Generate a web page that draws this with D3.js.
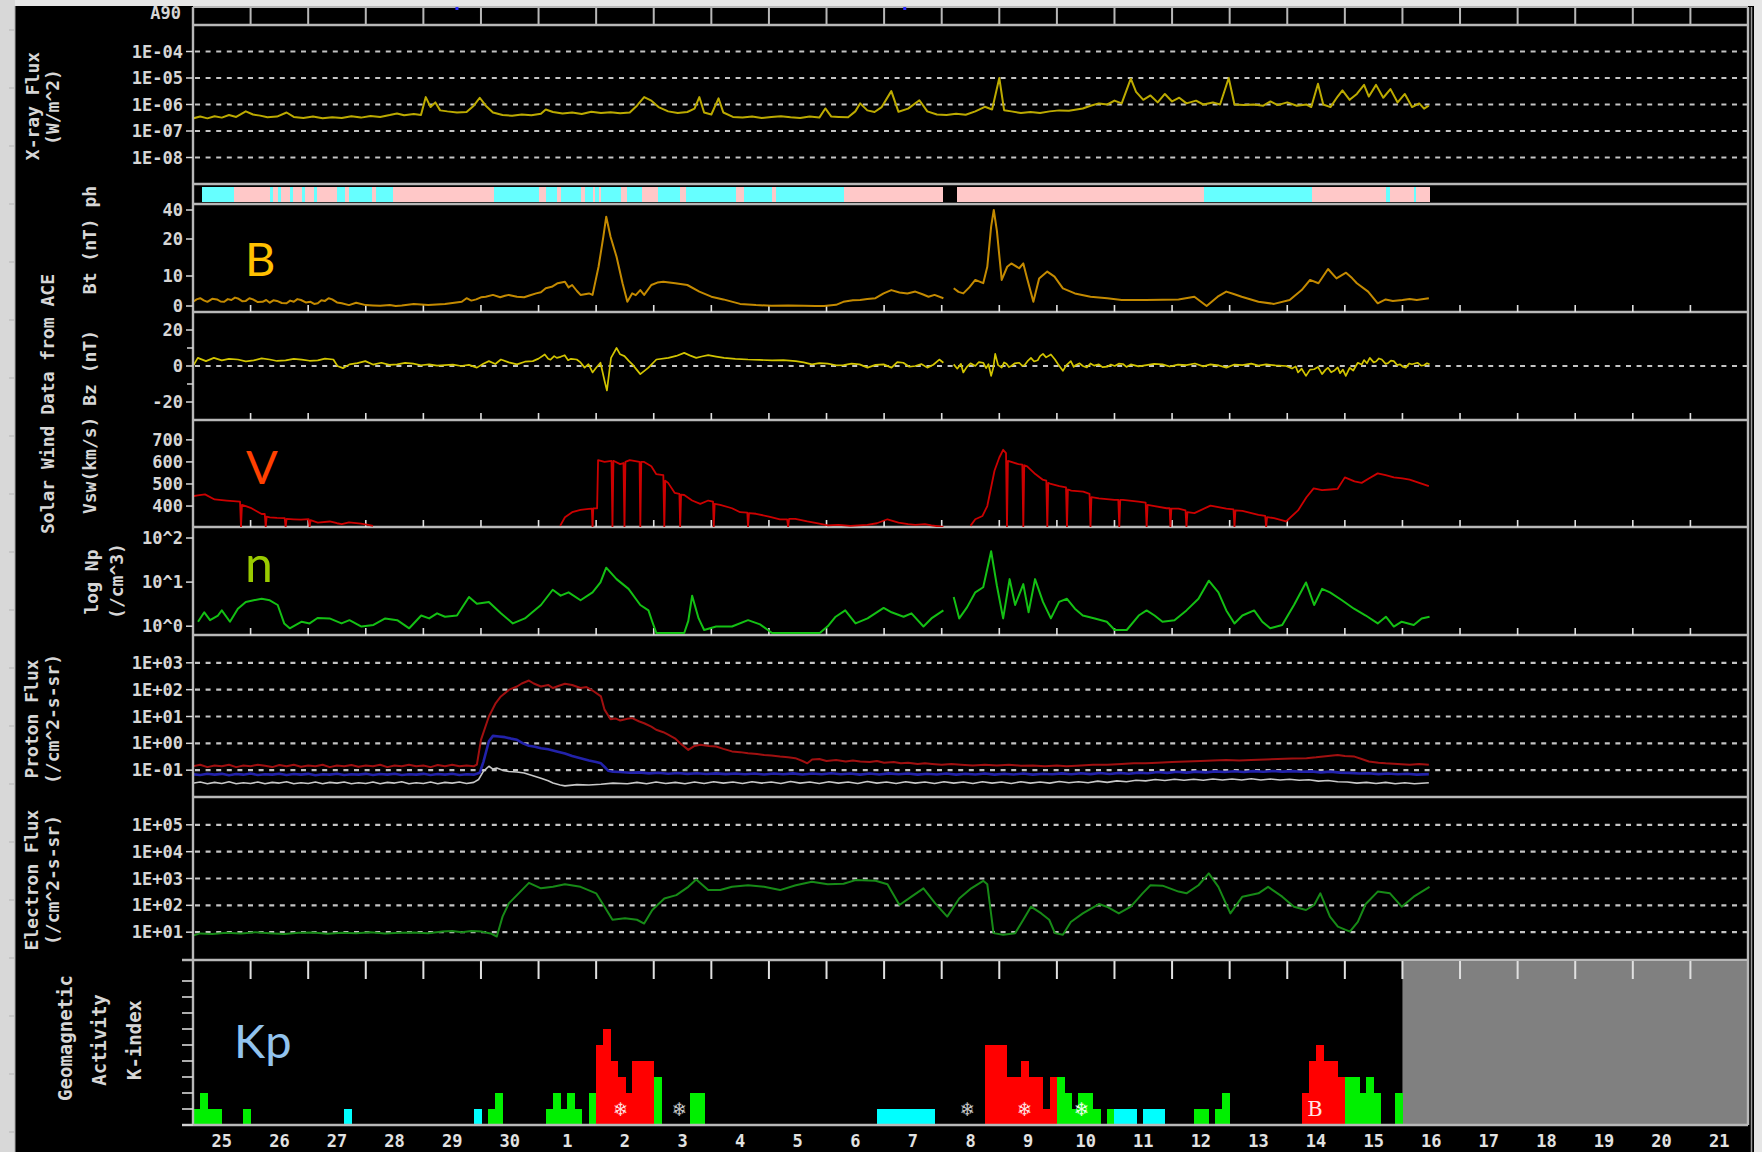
<!DOCTYPE html>
<html>
<head>
<meta charset="utf-8">
<script src="https://cdn.jsdelivr.net/npm/d3@7"></script>
<style>
  html, body { margin: 0; padding: 0; background: #000; }
  svg { display: block; }
</style>
</head>
<body>
<svg id="chart" width="1762" height="1152"></svg>
<script>
// ---------------------------------------------------------------------------
// Space weather overview: 25 Apr – 21 May (hours counted from 25 00UT)
// ---------------------------------------------------------------------------
const dayLabels = ["25","26","27","28","29","30","1","2","3","4","5","6","7","8",
                   "9","10","11","12","13","14","15","16","17","18","19","20","21"];

// GOES X-ray flux [W/m^2]  ([hour, value])
const xrayFlux = [
  [0,3.0e-7],[3,3.5e-7],[6,3.0e-7],[9,3.6e-7],[12,3.2e-7],[15,4.0e-7],[18,3.4e-7],[22,5.5e-7],
  [25,4.2e-7],[28,3.8e-7],[31,3.3e-7],[35,3.5e-7],[39,5.0e-7],[42,3.4e-7],[46,3.1e-7],[50,3.5e-7],
  [54,3.0e-7],[58,3.3e-7],[62,3.1e-7],[66,3.6e-7],[70,3.2e-7],[74,3.7e-7],[78,3.4e-7],[82,4.0e-7],
  [85,4.6e-7],[88,3.9e-7],[92,4.4e-7],[95,4.0e-7],[97,1.9e-6],[99,8.0e-7],[101,1.2e-6],[103,6.0e-7],
  [106,5.5e-7],[110,5.0e-7],[114,5.2e-7],[117,9.0e-7],[119.5,1.8e-6],[122,9.0e-7],[125,5.0e-7],
  [129,4.0e-7],[133,3.8e-7],[137,4.2e-7],[141,3.9e-7],[145,4.5e-7],[147,6.5e-7],[150,5.2e-7],
  [154,4.6e-7],[158,5.0e-7],[162,4.4e-7],[166,5.3e-7],[170,4.8e-7],[174,5.1e-7],[178,4.7e-7],
  [182,5.0e-7],[185,9.0e-7],[188,1.9e-6],[191,1.4e-6],[194,8.0e-7],[198,5.5e-7],[202,4.8e-7],
  [206,5.2e-7],[209,7.0e-7],[211,1.9e-6],[213,5.0e-7],[216,4.2e-7],[219,1.7e-6],[221,5.0e-7],
  [225,3.4e-7],[229,3.2e-7],[233,3.5e-7],[237,3.1e-7],[241,3.4e-7],[245,3.6e-7],[249,3.3e-7],
  [253,3.1e-7],[257,3.5e-7],[261,3.2e-7],[263.5,7.1e-7],[266,3.5e-7],[269,3.4e-7],[273,3.3e-7],
  [276,5.5e-7],[278,1.1e-6],[281,6.0e-7],[284,5.2e-7],[287,8.0e-7],[291,3.2e-6],[294,5.3e-7],
  [298,7.0e-7],[302.7,1.45e-6],[306,5.5e-7],[310,4.2e-7],[314,4.0e-7],[318,4.5e-7],[322,4.1e-7],
  [326,5.5e-7],[330,8.2e-7],[333,6.5e-7],[336,1.0e-5],[338,6.1e-7],[341,5.5e-7],[345,4.8e-7],
  [349,5.2e-7],[353,4.8e-7],[357,5.5e-7],[361,6.0e-7],[365,5.8e-7],[370.8,7.1e-7],[374,9.0e-7],
  [377.5,1.1e-6],[381,1.0e-6],[384,1.4e-6],[387,1.1e-6],[390.8,9.4e-6],[393,3.0e-6],[396,1.5e-6],
  [399,2.2e-6],[402,1.2e-6],[405,2.5e-6],[408,1.3e-6],[411,1.8e-6],[414,1.1e-6],[418,1.4e-6],
  [421,1.0e-6],[425,1.2e-6],[428,1.0e-6],[431.6,1.0e-5],[434,1.0e-6],[438,9.5e-7],[442,1.0e-6],
  [446,9.0e-7],[449,1.3e-6],[452,9.5e-7],[456,1.2e-6],[460,9.0e-7],[464,1.0e-6],[466,8.0e-7],
  [468.8,6.1e-6],[471,1.0e-6],[474,8.0e-7],[477,2.0e-6],[479,3.4e-6],[482,1.5e-6],[485,2.5e-6],
  [488,5.5e-6],[490,2.0e-6],[493,5.5e-6],[496,1.8e-6],[499,3.8e-6],[502,1.2e-6],[505,2.5e-6],
  [508,8.0e-7],[511,1.1e-6],[513,7.0e-7],[515,9.0e-7]
];

// Photometer status bar: [start hour, end hour, state]  c = cyan, p = pink
const photometer = [
  [3.7,17,"c"],[17,32,"p"],[32,33.5,"c"],[33.5,35.3,"p"],[35.3,36.5,"c"],[36.5,40.3,"p"],
  [40.3,41.5,"c"],[41.5,45.3,"p"],[45.3,46.5,"c"],[46.5,50.3,"p"],[50.3,51.5,"c"],[51.5,60.2,"p"],
  [60.2,63.5,"c"],[63.5,65.2,"p"],[65.2,74.5,"c"],[74.5,76.2,"p"],[76.2,83.5,"c"],[83.5,125.6,"p"],
  [125.6,144.3,"c"],[144.3,147.2,"p"],[147.2,151.6,"c"],[151.6,153.2,"p"],[153.2,161.5,"c"],
  [161.5,163.5,"p"],[163.5,166.5,"c"],[166.5,167.5,"p"],[167.5,169,"c"],[169,170,"p"],
  [170,178.2,"c"],[178.2,180.8,"p"],[180.8,187.1,"c"],[187.1,193.8,"p"],[193.8,203,"c"],
  [203,205.4,"p"],[205.4,226.3,"c"],[226.3,229.6,"p"],[229.6,241.2,"c"],[241.2,242.9,"p"],
  [242.9,271.1,"c"],[271.1,312.7,"p"],[318.3,421.3,"p"],[421.3,466.5,"c"],[466.5,497.1,"p"],
  [497.1,498.8,"c"],[498.8,508.7,"p"],[508.7,509.7,"c"],[509.7,515.3,"p"]
];

// ACE magnetic field magnitude Bt [nT]
const btField = [
  [0,1.4],[1.5,2.2],[3,2.6],[4.5,1.9],[6,1.4],[8,2.4],[10,2.2],[11.5,1.5],[13,1.4],[14.5,2.3],
  [16,2.0],[17.5,2.8],[19,2.4],[20.5,1.6],[22,1.7],[23.5,2.6],[25,2.2],[27,1.3],[29,1.4],[30.5,2.0],
  [32,1.1],[33.5,1.9],[35,1.7],[37,1.0],[39,0.9],[40.5,1.8],[42,1.4],[43.5,2.3],[45,2.0],[47,1.2],
  [49,1.4],[50.5,0.7],[52,0.9],[53.5,1.9],[55,1.7],[56.5,2.6],[58,2.2],[60,1.2],[62,0.9],[65,0.3],
  [68,1.1],[72,0.3],[75,0.2],[78,0.1],[82,0.3],[84.5,0],[87,0.2],[92,0.7],[98,0.3],[105,0.7],
  [112,1.4],[114,2.6],[116,1.8],[118,2.2],[120,2.9],[122,3.1],[125,3.7],[128,2.9],[130,3.4],
  [131.6,3.7],[135,3.1],[138,2.9],[140.5,3.6],[143,4.2],[145,4.6],[147,5.9],[149.5,6.4],[152,7.6],
  [155,8.1],[156.5,6.2],[158,7.0],[160,5.0],[161.5,3.7],[165,4.2],[166.5,3.7],[169,12.5],[171,21.6],
  [172.2,35.4],[174,21.6],[176.5,15.2],[179,7.6],[181,1.4],[183,4.2],[184.5,3.6],[186.4,5.3],[188,3.7],
  [191,7.0],[193.5,7.8],[196,8.1],[201,7.6],[206,7.0],[211,4.8],[216,3.1],[221,2.2],[228,0.7],
  [234.6,0.3],[241,0.1],[248,0.2],[254.5,0.1],[259.5,0],[263,0],[268,0.4],[271,1.4],[275,1.9],
  [278,2.0],[281,2.3],[284.4,2.6],[287.8,4.2],[291,5.3],[294.4,4.5],[297.7,4.2],[301,4.8],[304,3.9],
  [306.5,3.1],[309,3.7],[312.7,2.6],
  null,
  [317,5.9],[319,4.7],[321,4.2],[323.5,6.2],[326,8.7],[329.3,7.6],[331,12.5],[332.6,28.5],[333.7,40],
  [335,25.6],[337,8.7],[339.3,12.5],[341,13.4],[344.3,12.1],[346,13.4],[347.6,9.2],[350.2,1.4],
  [352.6,9.2],[356,11.2],[359,9.8],[362.5,5.9],[367.5,4.2],[374,3.1],[381,2.6],[387,2.0],[397,2.0],
  [404,2.1],[410.7,2.2],[417.3,3.1],[422.4,0],[427,3.1],[430.6,4.8],[434,3.9],[437,3.1],[444,1.4],
  [450.5,0.7],[457,2.0],[462,5.3],[465.5,8.7],[469,7.6],[473,11.9],[476.5,9.2],[480.5,10.9],
  [483,9.3],[485,7.6],[489.7,4.8],[493.7,0.9],[497,2.2],[500,1.7],[504,2.0],[507,2.3],[510,2.0],
  [515,2.6]
];

// ACE Bz [nT]
const bzField = [
  [0,0],[2,4.5],[5.4,2.7],[8.7,4.5],[12,3.1],[15,4.0],[18.7,3.6],[22,2.6],[25.3,3.1],[28.6,4.2],
  [32,3.6],[35,2.8],[38.6,3.1],[42,4.0],[45.3,3.5],[48.6,2.9],[52,3.1],[55,4.1],[58.5,3.6],[60.2,0],
  [62.5,-1.2],[65.2,0.9],[68.5,1.6],[71.8,2.7],[75,0.8],[78.5,1.8],[81.8,0.6],[85.1,0.9],[88.4,1.7],
  [91.8,1.3],[95,0.4],[98.4,0.9],[101.7,0.2],[105,0.5],[108.3,0.8],[111.7,0],[115,0.6],[118.3,-0.9],
  [121,1.3],[123.3,2.7],[126,1.1],[128.3,3.6],[131.6,2.0],[135,0.9],[138.3,2.4],[141.6,2.7],
  [144,4.1],[146.6,6.4],[148,4.0],[149,3.5],[150.5,5.5],[151.6,4.5],[153.2,5.1],[154.9,6.0],
  [156.3,3.2],[157.5,4.0],[159.9,3.6],[161.5,2.0],[163.2,-0.9],[164.8,1.0],[166.5,-3.6],[168,-1.0],
  [169.8,1.8],[171.5,-8.2],[172.5,-13.6],[174.2,4.5],[176.5,10],[178,6.5],[179.8,5.5],[181.5,3.0],
  [183.1,0.9],[186.4,-4.5],[189.8,-0.9],[193.1,3.6],[198.1,4.5],[201.4,5.6],[204.7,7.3],[207,5.9],
  [209.7,4.5],[212,5.3],[214.7,6.0],[218,5.2],[221.3,4.5],[226,4.0],[231.3,3.6],[236,3.4],
  [241.3,3.1],[246,3.3],[251.2,2.7],[254.5,2.0],[257.9,0.9],[261,1.6],[264.5,1.3],[268,0.4],
  [271.1,0.5],[274.4,1.3],[277.8,0.9],[281.1,-0.9],[284.4,0.6],[287.8,0.9],[291.1,-0.9],[293.5,2.2],
  [296,1.8],[298.5,-0.4],[301,0],[303.5,1.1],[306,-0.9],[308.5,0.7],[311,3.6],[312.7,1.8],
  null,
  [317,0.9],[318.5,-1.5],[320,1.2],[321,-3.6],[322.5,-0.5],[324,1.5],[326,0],[327.5,2.2],
  [329.3,1.8],[330.5,-1.2],[331.5,1.0],[332.6,-5.5],[333.5,-1.0],[334.3,6.7],[335.5,0.5],
  [337,-0.9],[338,2.0],[339,1.2],[340,-0.6],[341,0],[342.5,1.5],[344.3,1.8],[345.5,0.2],
  [346.5,0.4],[348,3.0],[349.2,4.5],[350.5,2.5],[352,3.2],[353,5.5],[354.2,6.7],[355.5,4.8],
  [357.5,6.4],[359.2,3.6],[360.5,1.0],[362.5,-2.7],[364,0.5],[365.8,2.7],[367,-0.5],[368,0.6],
  [369.5,1.5],[370.8,0],[372.5,-0.8],[374,1.4],[375.5,0.2],[377.5,0.9],[379,-0.6],[381,-0.4],
  [382.5,0.8],[384.1,0],[385.8,1.3],[387.5,1.1],[389,-0.5],[390.8,0.9],[394,-0.2],[397.4,0.5],
  [400.5,1.2],[404,0.9],[407,-0.3],[410.5,0.8],[414,0.5],[417.5,1.4],[421,-0.2],[424,0.9],[427.5,0.3],
  [430.6,-0.9],[434,0.8],[437.3,0.5],[441,1.3],[444,0.2],[447.2,0.9],[451,0.3],[455.5,0],[458,-1.4],
  [459.5,-0.2],[460.5,-3.6],[462,-1.5],[463.8,-5.5],[465.5,-2.0],[467.2,-1.8],[468.8,-0.5],
  [470.5,-4.5],[472,-2.0],[473,-1.0],[474.3,-3.5],[475.5,-2.7],[477,-0.8],[478,-4.0],[479.2,-2.0],
  [480.4,-5.5],[482,-1.0],[483.5,-2.5],[485.4,1.8],[487,0.8],[488,3.3],[489.2,1.5],[490.4,4.5],
  [492,2.0],[493,2.5],[494.2,4.2],[495.4,3.6],[497,1.2],[498,1.6],[499.2,3.0],[500.4,2.7],
  [501.8,0.5],[503,0.9],[504.2,-0.4],[505.4,-0.9],[506.8,1.4],[508,1.0],[510.3,1.8],[511.8,0.2],
  [513,0.4],[514.2,1.5],[515.3,0.9]
];

// ACE solar wind speed [km/s]; 0 marks a dropout
const vswSpeed = [
  [0,445],[2,448],[5,453],[9,430],[14,425],[19.6,420],[20,0],[20.4,405],[22,400],[24,392],[26,380],
  [28.6,364],[29.9,364],[30.3,0],[30.7,352],[32,349],[35,346],[38.2,345],[38.6,0],[39,342],[42,340],
  [45,338],[48.2,341],[48.6,0],[49,336],[52,325],[57,330],[60,322],[62,318],[65,326],[70,320],
  [73,315],[75,310],
  null,
  [153,310],[155,349],[158,372],[161.5,383],[165,387],[166.2,388],[166.5,0],[166.8,389],[168.4,390],
  [168.8,608],[171.5,600],[174.4,605],[174.8,0],[175.2,605],[178,590],[179.4,595],[179.8,0],
  [180.2,600],[182,608],[186.1,600],[186.4,0],[186.8,600],[188,600],[191,580],[193,545],[196,540],
  [196.4,0],[196.8,515],[198,505],[200.7,460],[202.7,455],[203,0],[203.4,452],[204.7,450],[208,425],
  [211.4,410],[214.7,425],[216.7,420],[217,0],[217.4,410],[219.7,405],[224.6,390],[228,372],
  [231,370],[231.3,0],[231.7,368],[234.6,365],[240,352],[244.6,340],[247.6,340],[248,0],[248.4,342],
  [251,342],[256,330],[261,320],[264.5,312],[269,315],[274,310],[281,315],[285,322],[289.4,340],
  [294,325],[298,318],[301,315],[305,318],[307.7,312],[312.7,305],
  null,
  [324,310],[326,340],[329,355],[331,400],[334,560],[336,620],[337.6,655],[338.8,640],[339.2,0],
  [339.6,605],[341,600],[344,590],[345.6,588],[346,0],[346.4,585],[347.6,580],[351,545],[354,520],
  [355.6,515],[356,0],[356.4,505],[357.5,500],[361,490],[363.8,485],[364.2,0],[364.6,475],[366,470],
  [371,465],[373.6,455],[374,0],[374.4,440],[377.5,435],[384,428],[385.6,428],[386,0],[386.4,428],
  [387.5,428],[394,420],[397,415],[397.4,0],[397.8,405],[400.7,400],[405.7,390],[407,390],[407.3,0],
  [407.7,388],[410.7,388],[413.6,380],[414,0],[414.4,372],[417.3,368],[424,402],[430.6,388],
  [433.6,385],[434,0],[434.4,380],[437.3,378],[444,360],[446.8,355],[447.2,0],[447.6,350],
  [450.5,345],[455.5,330],[460.5,380],[464,440],[467,480],[470.5,472],[474,475],[477,478],[480,530],
  [484,512],[487,505],[490,525],[493.7,548],[497,540],[500.4,530],[504,525],[507,520],[511,505],
  [515,490]
];

// ACE proton density [/cm^3]
const npDensity = [
  [2.1,1.15],[4.7,1.9],[7.1,1.25],[10.4,1.6],[12,2.1],[15.4,1.15],[18.7,2.3],[22,3.3],[25.3,3.6],
  [28.6,3.9],[32,3.6],[35.3,2.8],[38,1.05],[40.3,0.81],[45.3,1.15],[48.6,1.05],[51.9,1.4],[56.9,1.37],
  [61.9,1.05],[65.2,1.25],[70.2,0.89],[75.2,0.97],[80.1,1.37],[85.1,1.25],[90.1,0.81],[95.1,1.6],
  [98.4,1.37],[101.7,1.8],[105,1.5],[110,1.6],[115,4.3],[118.3,3.0],[123.3,3.3],[128.3,1.8],
  [133.3,1.05],[138.3,1.37],[145,2.8],[149.9,6.3],[153.2,4.6],[156.5,5.5],[161.5,3.6],[166.5,5.5],
  [169.8,9.3],[172.2,20.4],[176.5,11.1],[181.5,6.6],[186.4,2.8],[189.8,2.1],[191.4,1.15],[193.1,0.5],
  [204.7,0.5],[206.4,1.2],[208,4.6],[210.7,1.37],[213,0.74],[218,0.89],[224.6,0.89],[231.3,1.25],
  [236.3,1.0],[241.3,0.5],[261.2,0.5],[264.5,0.9],[267.8,1.5],[271.8,2.1],[276.1,1.05],[281.1,1.37],
  [287.8,2.4],[291.1,1.9],[296.1,1.5],[299.4,1.8],[304.4,0.89],[307.7,1.37],[312.7,2.1],
  null,
  [317,4.3],[319.3,1.37],[322.6,2.5],[326,5.5],[329.3,7.2],[332.6,49],[335,7.8],[337.6,1.37],
  [340.3,11.1],[342.6,2.8],[346,8.5],[348.2,1.9],[350.9,11.1],[354.2,3.3],[357.5,1.37],[360.9,3.3],
  [364.2,3.9],[367.5,2.3],[370.8,1.6],[375.8,1.37],[380.8,1.15],[384.1,0.74],[389.1,0.74],[394.1,1.6],
  [397.4,2.1],[400.7,1.6],[404,1.15],[409,1.25],[414,2.1],[419,3.9],[423.3,10.2],[427.3,5.5],
  [430.6,2.1],[434,1.05],[437.3,1.6],[442.2,2.1],[445.6,1.15],[448.9,0.81],[453.9,0.97],[458.8,2.8],
  [463.8,9.3],[467.2,2.8],[470.5,6.6],[473.8,5.5],[478.8,3.6],[483.8,2.3],[488.7,1.6],[493.7,1.05],
  [497.1,1.5],[500.4,0.89],[503.7,1.15],[508.7,0.97],[512,1.37],[515.3,1.5]
];

// GOES proton flux [/cm^2-s-sr], three energy channels
const protonHigh = [
  [0,0.14],[3,0.16],[6,0.13],[9,0.15],[12,0.14],[15,0.16],[18,0.13],[21,0.15],[24,0.14],[27,0.16],
  [30,0.145],[33,0.13],[36,0.155],[39,0.14],[42,0.16],[45,0.135],[48,0.15],[51,0.14],[54,0.16],
  [57,0.13],[60,0.15],[63,0.14],[66,0.155],[69,0.135],[72,0.15],[75,0.14],[78,0.16],[81,0.13],
  [84,0.15],[87,0.14],[90,0.16],[93,0.14],[96,0.15],[99,0.13],[102,0.155],[105,0.14],[108,0.16],
  [111,0.14],[114,0.15],[117,0.14],[118.3,0.16],[120,1.35],[123.3,10],[126,30],[128.3,56],
  [131.6,98],[135,131],[137,170],[140,219],[142,170],[145,131],[148,150],[150,115],[152.5,140],
  [155,166],[158,150],[161.5,115],[164,125],[166.5,93],[170,56],[171.5,18],[174,7.9],[176,8.5],
  [178,7.1],[181,8.2],[183,8.7],[186,6.5],[188,5.6],[191,4.2],[193,3.2],[196,2.6],[198,2.1],
  [201,1.5],[203,1.0],[206.4,0.57],[209,0.8],[211.4,0.88],[215,0.8],[218,0.76],[221,0.62],
  [224.6,0.5],[228,0.47],[231.3,0.43],[235,0.4],[238,0.37],[241,0.35],[244.6,0.32],[248,0.3],
  [251,0.28],[254,0.22],[256,0.18],[258,0.25],[261,0.26],[264,0.22],[268,0.24],[272,0.21],
  [275,0.23],[278,0.21],[282,0.2],[285,0.22],[288,0.19],[292,0.2],[295,0.18],[298,0.19],[302,0.17],
  [305,0.18],[308,0.17],[312,0.16],[316,0.17],[320,0.16],[325,0.15],[330,0.16],[335,0.15],
  [340,0.16],[345,0.145],[350,0.15],[355,0.14],[360,0.15],[364,0.14],[370,0.15],[375,0.16],
  [381,0.16],[387,0.17],[392,0.18],[397,0.18],[402,0.19],[408,0.2],[414,0.21],[420,0.22],
  [425,0.23],[430.6,0.24],[436,0.23],[441,0.24],[447,0.25],[452,0.26],[458,0.27],[464,0.28],
  [468,0.3],[472,0.33],[477,0.37],[480,0.34],[484,0.32],[487,0.26],[490,0.21],[494,0.19],
  [497,0.18],[502,0.17],[507,0.16],[511,0.17],[515,0.16]
];
const protonMid = [
  [0,0.07],[3,0.066],[6,0.074],[9,0.068],[12,0.073],[15,0.065],[18,0.072],[21,0.068],[24,0.075],
  [27,0.066],[30,0.07],[33,0.068],[36,0.074],[39,0.066],[42,0.072],[45,0.068],[48,0.073],[51,0.065],
  [54,0.07],[57,0.068],[60,0.074],[63,0.066],[66,0.07],[69,0.068],[72,0.073],[75,0.066],[78,0.072],
  [81,0.068],[84,0.074],[87,0.066],[90,0.07],[93,0.068],[96,0.073],[99,0.066],[102,0.072],[105,0.068],
  [108,0.074],[111,0.066],[114,0.07],[117,0.068],[119.5,0.08],[121,0.2],[123.3,1.2],[125,1.9],
  [127.5,1.8],[130,1.7],[132.5,1.5],[135,1.35],[137.5,1.0],[140,0.81],[142.5,0.75],[145,0.66],
  [148,0.6],[151.6,0.5],[155,0.42],[158,0.34],[161.5,0.28],[165,0.23],[168,0.2],[170,0.18],
  [172,0.12],[173,0.095],[175,0.088],[178,0.085],[182,0.08],[186,0.083],[190,0.076],[194,0.08],
  [198,0.074],[202,0.078],[206,0.073],[210,0.077],[214,0.072],[218,0.076],[222,0.071],[226,0.075],
  [230,0.07],[234,0.075],[238,0.069],[242,0.075],[246,0.07],[250,0.076],[254,0.069],[258,0.075],
  [262,0.07],[266,0.077],[270,0.07],[274,0.075],[278,0.068],[282,0.075],[286,0.069],[290,0.076],
  [294,0.07],[298,0.075],[302,0.068],[306,0.074],[310,0.069],[314,0.075],[318,0.068],[322,0.074],
  [326,0.069],[330,0.075],[334,0.068],[338,0.074],[342,0.069],[346,0.075],[350,0.068],[354,0.074],
  [358,0.07],[362,0.076],[366,0.07],[370,0.077],[374,0.071],[378,0.078],[382,0.072],[386,0.079],
  [390,0.074],[394,0.081],[398,0.077],[402,0.085],[406,0.079],[410,0.087],[414,0.081],[418,0.088],
  [422,0.083],[426,0.09],[430,0.085],[434,0.091],[438,0.086],[442,0.092],[446,0.087],[450,0.093],
  [454,0.088],[458,0.092],[462,0.087],[466,0.09],[470,0.083],[474,0.088],[478,0.081],[482,0.079],
  [486,0.075],[490,0.077],[494,0.071],[498,0.075],[502,0.07],[506,0.074],[510,0.068],[515,0.071]
];
const protonLow = [
  [0,0.033],[3,0.036],[6,0.031],[9,0.035],[12,0.032],[15,0.037],[18,0.031],[21,0.034],[24,0.032],
  [27,0.036],[30,0.031],[33,0.035],[36,0.033],[39,0.037],[42,0.031],[45,0.034],[48,0.032],[51,0.036],
  [54,0.031],[57,0.035],[60,0.033],[63,0.036],[66,0.031],[69,0.034],[72,0.032],[75,0.036],[78,0.031],
  [81,0.035],[84,0.033],[87,0.037],[90,0.031],[93,0.034],[96,0.032],[99,0.036],[102,0.031],
  [105,0.035],[108,0.033],[111,0.036],[114,0.032],[117,0.035],[119,0.045],[121,0.09],[123.3,0.14],
  [125,0.11],[126.6,0.12],[129,0.1],[131.6,0.089],[135,0.085],[138,0.078],[141,0.065],[145,0.05],
  [148,0.04],[150,0.033],[153,0.028],[155,0.026],[160,0.029],[165,0.028],[170,0.03],[175,0.033],
  [181,0.031],[185,0.035],[189,0.031],[193,0.036],[197,0.032],[201,0.035],[205,0.031],[209,0.036],
  [213,0.032],[217,0.037],[221,0.033],[225,0.036],[229,0.032],[233,0.037],[237,0.033],[241,0.036],
  [245,0.032],[249,0.038],[253,0.033],[257,0.036],[261,0.032],[265,0.037],[269,0.033],[273,0.036],
  [277,0.032],[281,0.038],[285,0.033],[289,0.036],[293,0.032],[297,0.037],[301,0.033],[305,0.036],
  [309,0.032],[313,0.037],[317,0.033],[321,0.036],[325,0.032],[329,0.037],[333,0.033],[337,0.036],
  [341,0.032],[345,0.037],[349,0.033],[353,0.036],[357,0.033],[361,0.038],[365,0.034],[369,0.037],
  [373,0.034],[377,0.039],[381,0.035],[385,0.04],[389,0.037],[393,0.042],[397,0.04],[401,0.045],
  [405,0.041],[409,0.046],[413,0.042],[417,0.046],[421,0.042],[425,0.047],[429,0.043],[433,0.047],
  [437,0.043],[441,0.048],[445,0.043],[449,0.047],[453,0.043],[457,0.046],[461,0.042],[465,0.044],
  [469,0.039],[473,0.041],[477,0.037],[481,0.036],[485,0.033],[489,0.035],[493,0.032],[497,0.035],
  [501,0.031],[505,0.034],[509,0.031],[515,0.034]
];

// GOES electron flux [/cm^2-s-sr]
const electronFlux = [
  [0,7.5],[3,9.0],[8,8.5],[14,9.5],[20,9.0],[26,10],[32,9.2],[38,8.5],[44,9.5],[50,9.8],[56,8.8],
  [62,9.5],[68,9.2],[74,10],[80,9.0],[86,9.5],[92,9.8],[98,9.2],[104,10.5],[108,11],[112,10],
  [116,11],[120,10.5],[124,9.0],[126.6,6.9],[129,38],[131.6,118],[135,240],[140,690],[145,430],
  [150,490],[155,610],[161.5,490],[168,280],[171.5,89],[174.8,29],[180,33],[185,29],[188,21],
  [191.4,67],[196.4,180],[201.4,240],[206.4,490],[209.7,910],[214.7,370],[219.7,370],[224.6,490],
  [231.3,560],[238,490],[244.6,370],[251.2,560],[257.9,760],[264.5,610],[271.1,640],[276.1,870],
  [284.4,820],[289.4,610],[294.4,103],[299.4,210],[304.4,430],[309.3,118],[314.3,38],[319.3,180],
  [324.3,430],[329.3,820],[331,610],[333.6,9.2],[337.6,8.0],[342.6,9.2],[346,29],[349.2,89],
  [353.5,50],[356.8,29],[359.2,9.2],[362.5,8.0],[365.8,24],[370.8,50],[377.5,112],[380.8,89],
  [385.8,50],[390.8,89],[395.7,280],[399,560],[404,540],[410.7,325],[414,280],[419,560],[423.3,1550],
  [427.3,490],[432.3,50],[437.3,210],[444,280],[448,490],[453.9,210],[458.8,89],[463.8,67],
  [467.2,103],[469.8,280],[473.8,38],[477.1,16],[482.1,10.5],[485.4,24],[488.7,112],[493.7,325],
  [498.8,280],[503.7,89],[508.7,210],[515.3,490]
];

// Kp index, eight 3-hour values per day (0 = no bar), and bar colour class per day
const kpValues = [
  [1,2,1,1,0,0,0,1], [0,0,0,0,0,0,0,0], [0,0,0,0,0,1,0,0], [0,0,0,0,0,0,0,0], [0,0,0,0,0,0,0,1],
  [0,1,2,0,0,0,0,0], [0,1,2,1,2,1,0,2], [5,6,4,3,2,4,4,4], [3,0,0,0,0,2,2,0], [0,0,0,0,0,0,0,0],
  [0,0,0,0,0,0,0,0], [0,0,0,0,0,0,0,1], [1,1,1,1,1,1,1,0], [0,0,0,0,0,0,5,5], [5,3,3,4,3,3,1,3],
  [3,2,1,2,2,1,0,1], [1,1,1,0,1,1,1,0], [0,0,0,1,1,0,1,2], [0,0,0,0,0,0,0,0], [0,0,2,4,5,4,4,3],
  [3,3,2,3,2,0,0,2]
];
const kpDayClass = ["g","g","c","g","c","g","g","r","g","g","g","c","c","r","r","g","c","g","g","r","g"];

// Event symbols shown on the Kp panel: [hour, symbol, colour]
const kpMarks = [
  [178.2,"\u2744","#ffdede"],[202.7,"\u2744","#c4c4c4"],[322.7,"\u2744","#c4c4c4"],
  [346.6,"\u2744","#ffdede"],[370.3,"\u2744","#eaffea"],[467.5,"B","#ffe4e4"]
];

// Small indicators in the A90 strip (hours)
const a90Marks = [110, 296.6];

// Tick labels
const xrayTicks = ["1E-04","1E-05","1E-06","1E-07","1E-08"];
const btTicks = [40, 20, 10, 0];
const bzTicks = [20, 0, -20];
const vswTicks = [700, 600, 500, 400];
const npTicks = ["10^2","10^1","10^0"];
const protonTicks = ["1E+03","1E+02","1E+01","1E+00","1E-01"];
const electronTicks = ["1E+05","1E+04","1E+03","1E+02","1E+01"];

// ---------------------------------------------------------------------------
const W = 1762, H = 1152;
const X0 = 193, X1 = 1748;
const nDays = dayLabels.length;
const x = d3.scaleLinear().domain([0, nDays * 24]).range([X0, X1]);

const svg = d3.select("#chart");
const defs = svg.append("defs");
const MONO = "'DejaVu Sans Mono', 'Liberation Mono', monospace";
const FRAME = "#b8b8b8";
const TEXT = "#d6d6d6";

// panel vertical extents
const P = {
  xray: [25, 184], phot: [184, 204], bt: [204, 312], bz: [312, 420], vsw: [420, 527],
  np: [527, 635], pro: [636, 797], ele: [798, 959], kp: [960, 1125]
};

// scales
const yX = d3.scaleLog().domain([1e-9, 1e-3]).range([P.xray[1], P.xray[0]]);
const yBt = d3.scaleLinear().domain([0, 10, 20, 40]).range([306, 276, 239, 210]).clamp(true);
const yBz = d3.scaleLinear().domain([-30, 30]).range([P.bz[1], P.bz[0]]);
const yV = d3.scaleLinear().domain([305, 790]).range([P.vsw[1], P.vsw[0]]).clamp(true);
const yNp = d3.scaleLog().domain([Math.pow(10, -0.2), Math.pow(10, 2.25)]).range([P.np[1], P.np[0]]).clamp(true);
const yP = d3.scaleLog().domain([1e-2, 1e4]).range([P.pro[1], P.pro[0]]).clamp(true);
const yE = d3.scaleLog().domain([1, 1e6]).range([P.ele[1], P.ele[0]]).clamp(true);
const yKp = d3.scaleLinear().domain([0, 9]).range([1125, 981]);

// background
svg.append("rect").attr("width", W).attr("height", H).attr("fill", "#000");

// clip regions (slightly taller than the panel so clamped values stay visible)
Object.entries(P).forEach(([k, [t, b]]) => {
  defs.append("clipPath").attr("id", "clip-" + k)
    .append("rect").attr("x", X0 + 1).attr("y", t + 1).attr("width", X1 - X0 - 2).attr("height", b - t - 1);
});

const gFrame = svg.append("g");
const gData = svg.append("g");
const gTop = svg.append("g");

// ---- A90 strip -------------------------------------------------------------
gTop.append("text").attr("x", 181).attr("y", 19).attr("text-anchor", "end")
  .attr("font-family", MONO).attr("font-weight", "bold").attr("font-size", 17)
  .attr("fill", TEXT).text("A90");
gFrame.append("line").attr("x1", X0).attr("x2", X1).attr("y1", 7).attr("y2", 7)
  .attr("stroke", FRAME).attr("stroke-width", 2);
gFrame.selectAll(".a90div").data(d3.range(0, nDays + 1)).join("line")
  .attr("x1", d => x(d * 24)).attr("x2", d => x(d * 24)).attr("y1", 7).attr("y2", 25)
  .attr("stroke", FRAME).attr("stroke-width", 2);
gTop.selectAll(".a90mark").data(a90Marks).join("rect")
  .attr("x", d => x(d) - 1.5).attr("y", 7).attr("width", 3).attr("height", 3).attr("fill", "#2a2aff");

// ---- helpers ------------------------------------------------------------------
function dashedGrid(values, scale) {
  gFrame.append("g").selectAll("line").data(values).join("line")
    .attr("x1", X0 + 2).attr("x2", X1).attr("y1", d => scale(d)).attr("y2", d => scale(d))
    .attr("stroke", "#c4c4c4").attr("stroke-width", 2.2).attr("stroke-dasharray", "5 5.6");
}
function tickLabels(labels, positions) {
  const grp = gTop.append("g");
  labels.forEach((lab, i) => {
    grp.append("text").attr("x", 183).attr("y", positions[i]).attr("dy", "0.36em")
      .attr("text-anchor", "end").attr("font-family", MONO).attr("font-weight", "bold")
      .attr("font-size", 17).attr("fill", TEXT).text(lab);
    grp.append("line").attr("x1", 186).attr("x2", X0).attr("y1", positions[i]).attr("y2", positions[i])
      .attr("stroke", TEXT).attr("stroke-width", 1.5);
  });
}
function dayTicksUp(bottom) {
  gFrame.append("g").selectAll("line").data(d3.range(1, nDays)).join("line")
    .attr("x1", d => x(d * 24)).attr("x2", d => x(d * 24)).attr("y1", bottom - 7).attr("y2", bottom)
    .attr("stroke", "#e0e0e0").attr("stroke-width", 1.6);
}
function series(data, scale, color, width, clip) {
  const line = d3.line().defined(d => d !== null)
    .x(d => x(d[0])).y(d => scale(d[1]));
  gData.append("path").attr("d", line(data)).attr("clip-path", `url(#clip-${clip})`)
    .attr("fill", "none").attr("stroke", color).attr("stroke-width", width)
    .attr("stroke-linejoin", "round");
}

// ---- frames ------------------------------------------------------------------
[P.xray[0], P.phot[0], P.phot[1], P.bt[1], P.bz[1], P.vsw[1], P.np[1], P.pro[1]].forEach(yv => {
  gFrame.append("line").attr("x1", X0).attr("x2", X1).attr("y1", yv).attr("y2", yv)
    .attr("stroke", FRAME).attr("stroke-width", 2.4);
});
gFrame.append("line").attr("x1", 182).attr("x2", X1).attr("y1", 960).attr("y2", 960)
  .attr("stroke", FRAME).attr("stroke-width", 2.6);
gTop.append("line").attr("x1", 182).attr("x2", X1).attr("y1", 1125).attr("y2", 1125)
  .attr("stroke", FRAME).attr("stroke-width", 2.6);
gTop.append("line").attr("x1", X0).attr("x2", X0).attr("y1", 7).attr("y2", 1125)
  .attr("stroke", FRAME).attr("stroke-width", 2.4);
gTop.append("line").attr("x1", X1).attr("x2", X1).attr("y1", 7).attr("y2", 1125)
  .attr("stroke", FRAME).attr("stroke-width", 2.4);
gTop.append("line").attr("x1", X1 + 3.5).attr("x2", X1 + 3.5).attr("y1", 7).attr("y2", H)
  .attr("stroke", "#9a9a9a").attr("stroke-width", 1.5);

// ---- X-ray -------------------------------------------------------------------
const xrayVals = xrayTicks.map(s => +s);
dashedGrid(xrayVals, yX);
tickLabels(xrayTicks, xrayVals.map(yX));
series(xrayFlux, yX, "#bcaa00", 2, "xray");

// ---- photometer bar ----------------------------------------------------------
gData.append("g").attr("shape-rendering", "crispEdges").selectAll("rect").data(photometer).join("rect")
  .attr("x", d => x(d[0])).attr("width", d => x(d[1]) - x(d[0]))
  .attr("y", 187).attr("height", 15)
  .attr("fill", d => d[2] === "c" ? "#66ffff" : "#ffc8c8");

// ---- Bt ----------------------------------------------------------------------
tickLabels(btTicks.map(String), btTicks.map(yBt));
dayTicksUp(P.bt[1]);
series(btField, yBt, "#c48a00", 2, "bt");

// ---- Bz ----------------------------------------------------------------------
gFrame.append("line").attr("x1", X0 + 2).attr("x2", X1).attr("y1", yBz(0)).attr("y2", yBz(0))
  .attr("stroke", "#c4c4c4").attr("stroke-width", 2.2).attr("stroke-dasharray", "5 5.6");
tickLabels(bzTicks.map(String), bzTicks.map(yBz));
[10, -10].forEach(v => gTop.append("line").attr("x1", 187).attr("x2", X0)
  .attr("y1", yBz(v)).attr("y2", yBz(v)).attr("stroke", TEXT).attr("stroke-width", 1.5));
dayTicksUp(P.bz[1]);
series(bzField, yBz, "#d2c400", 1.7, "bz");

// ---- Vsw ---------------------------------------------------------------------
tickLabels(vswTicks.map(String), vswTicks.map(yV));
dayTicksUp(P.vsw[1]);
series(vswSpeed, yV, "#cc0000", 1.8, "vsw");

// ---- Np ----------------------------------------------------------------------
const yNpDraw = d3.scaleLog().domain(yNp.domain()).range([P.np[1] - 2, P.np[0]]).clamp(true);
tickLabels(npTicks, [100, 10, 1].map(yNp));
dayTicksUp(P.np[1]);
series(npDensity, yNpDraw, "#14c014", 2, "np");

// ---- protons -----------------------------------------------------------------
const proVals = protonTicks.map(s => +s);
dashedGrid(proVals, yP);
tickLabels(protonTicks, proVals.map(yP));
series(protonLow, yP, "#c8c8c8", 1.6, "pro");
series(protonMid, yP, "#2222aa", 2.6, "pro");
series(protonHigh, yP, "#a01010", 2, "pro");

// ---- electrons ---------------------------------------------------------------
const eleVals = electronTicks.map(s => +s);
dashedGrid(eleVals, yE);
tickLabels(electronTicks, eleVals.map(yE));
series(electronFlux, yE, "#178a17", 2, "ele");

// ---- Kp ----------------------------------------------------------------------
const kpColor = { g: "#00f000", r: "#ff0000", c: "#00ffff" };
const kpBins = [];
kpValues.forEach((day, di) => day.forEach((v, bi) => {
  if (v > 0) kpBins.push({ t0: di * 24 + bi * 3, t1: di * 24 + bi * 3 + 3, v, c: kpDayClass[di] });
}));
gFrame.append("rect").attr("x", x(kpValues.length * 24)).attr("y", 961)
  .attr("width", X1 - x(kpValues.length * 24)).attr("height", 1124 - 961).attr("fill", "#808080");
gData.append("g").attr("shape-rendering", "crispEdges").selectAll("rect").data(kpBins).join("rect")
  .attr("x", d => x(d.t0)).attr("width", d => x(d.t1) - x(d.t0) + 0.6)
  .attr("y", d => yKp(d.v)).attr("height", d => yKp(0) - yKp(d.v))
  .attr("fill", d => kpColor[d.c]);
gTop.append("g").selectAll("text").data(kpMarks).join("text")
  .attr("x", d => x(d[0])).attr("y", 1116).attr("text-anchor", "middle")
  .attr("font-family", d => d[1] === "B" ? "'DejaVu Serif', serif" : "'DejaVu Sans', sans-serif")
  .attr("font-size", d => d[1] === "B" ? 21 : 19).attr("fill", d => d[2]).text(d => d[1]);
gTop.append("g").selectAll("line").data(d3.range(0, 10)).join("line")
  .attr("x1", 182).attr("x2", X0).attr("y1", d => yKp(d)).attr("y2", d => yKp(d))
  .attr("stroke", "#d8d8d8").attr("stroke-width", 1.6);
gTop.append("g").selectAll("line").data(d3.range(1, nDays)).join("line")
  .attr("x1", d => x(d * 24)).attr("x2", d => x(d * 24)).attr("y1", 961).attr("y2", 979)
  .attr("stroke", "#e0e0e0").attr("stroke-width", 2);

// ---- day labels ----------------------------------------------------------------
gTop.append("g").selectAll("text").data(dayLabels).join("text")
  .attr("x", (d, i) => x(i * 24 + 12)).attr("y", 1147).attr("text-anchor", "middle")
  .attr("font-family", MONO).attr("font-weight", "bold").attr("font-size", 17)
  .attr("fill", "#e2e2e2").text(d => d);

// ---- rotated panel titles --------------------------------------------------------
function vtext(str, cx, cy, size) {
  gTop.append("text").attr("transform", `translate(${cx},${cy}) rotate(-90)`)
    .attr("text-anchor", "middle").attr("dy", "0.35em")
    .attr("font-family", MONO).attr("font-weight", "bold").attr("font-size", size || 18)
    .attr("fill", TEXT).text(str);
}
vtext("X-ray Flux", 33, 106);
vtext("(W/m^2)", 53, 107);
vtext("Solar Wind Data from ACE", 48, 404);
vtext("Bt (nT) ph", 90, 240);
vtext("Vsw(km/s) Bz (nT)", 90, 422);
vtext("log Np", 92, 582);
vtext("(/cm^3)", 117, 581);
vtext("Proton Flux", 32, 719);
vtext("(/cm^2-s-sr)", 53, 719);
vtext("Electron Flux", 32, 880);
vtext("(/cm^2-s-sr)", 53, 880);
vtext("Geomagnetic", 65, 1038, 19);
vtext("Activity", 99, 1040, 19);
vtext("K-index", 134, 1040, 19);

// ---- parameter captions ----------------------------------------------------------
const capFont = "Lato, 'Open Sans', sans-serif";
[["B", 245, 276, "#ffc000"], ["V", 246, 484, "#ff4000"], ["n", 245, 582, "#9acb00"], ["Kp", 234, 1058, "#92c3ee"]]
  .forEach(([t, cx, cy, c]) => {
    gTop.append("text").attr("x", cx).attr("y", cy).attr("font-family", capFont)
      .attr("font-size", t === "n" ? 50 : 47).attr("fill", c).text(t);
  });

// ---- page margins ------------------------------------------------------------------
svg.append("rect").attr("x", 0).attr("y", 0).attr("width", W).attr("height", 6).attr("fill", "#e6e6e6");
svg.append("rect").attr("x", 0).attr("y", 0).attr("width", 15).attr("height", H).attr("fill", "#d8d8d8");
svg.append("line").attr("x1", 15).attr("x2", 15).attr("y1", 6).attr("y2", H)
  .attr("stroke", "#a8a8a8").attr("stroke-width", 1);
svg.append("g").selectAll("line").data(d3.range(30, H, 58)).join("line")
  .attr("x1", 9).attr("x2", 14).attr("y1", d => d).attr("y2", d => d)
  .attr("stroke", "#b4b4b4").attr("stroke-width", 1);
svg.append("rect").attr("x", 1754).attr("y", 0).attr("width", 8).attr("height", H).attr("fill", "#e6e6e6");
</script>
</body>
</html>
